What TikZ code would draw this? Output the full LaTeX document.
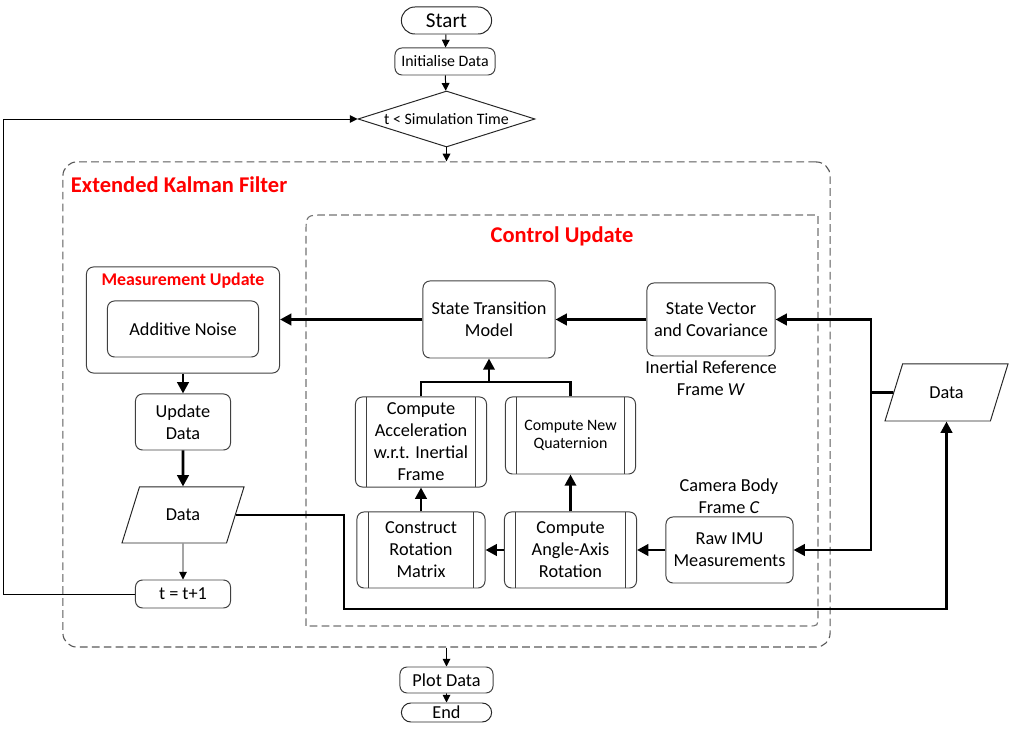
\documentclass[tikz,border=0pt]{standalone}
\usepackage{fontspec}
\setmainfont{Carlito}
\usepackage{tikz}
\usetikzlibrary{calc,positioning,shapes,arrows.meta}

\tikzset{
	txt/.style={font=\fontsize{13}{15.6}\selectfont},
	box/.style={txt,draw=black!75,line width=0.7pt,rounded corners=5pt,align=center,inner sep=1pt},
	term/.style={txt,draw=black!85,line width=0.7pt,rounded rectangle,inner sep=1pt},
	predef/.style={box,path picture={
		\draw[black!75,line width=0.7pt] ([xshift=0.28cm]path picture bounding box.north west) -- ([xshift=0.28cm]path picture bounding box.south west);
		\draw[black!75,line width=0.7pt] ([xshift=-0.28cm]path picture bounding box.north east) -- ([xshift=-0.28cm]path picture bounding box.south east);}},
	iobox/.style={txt,draw=black!85,line width=0.7pt,trapezium,trapezium left angle=63,trapezium right angle=117,
		trapezium stretches=true,inner sep=1pt},
	dashbox/.style={draw=black!65,line width=0.8pt,dash pattern=on 5.5pt off 3pt},
	ttl/.style={text=red,font=\bfseries\fontsize{16}{19}\selectfont},
	thn/.style={line width=0.7pt,-{Triangle[length=5.5pt,width=5.5pt]}},
	thk/.style={line width=2pt,-{Triangle[length=8pt,width=8pt]}}
}

\begin{document}
\begin{tikzpicture}[x=0.025cm,y=-0.025cm]
	\useasboundingbox (0,0) rectangle (1009,734);

	% top of the chart
	\node (start) [term,minimum width=2.325cm,minimum height=0.675cm,font=\fontsize{15}{18}\selectfont] at (446.5,20.5) {Start};
	\node (init) [box,minimum width=2.5cm,minimum height=0.675cm,font=\fontsize{11.3}{13.5}\selectfont] at (445,61.5) {Initialise Data};
	\node (dec) [txt,draw=black!85,line width=0.7pt,diamond,aspect=3.16,inner sep=0pt,minimum width=4.425cm,minimum height=1.4cm,
		font=\fontsize{11.3}{13.5}\selectfont] at (446.5,119) {t < Simulation Time};

	% the two dashed frames
	\node (ekf) [dashbox,rounded corners=0.35cm,minimum width=19.175cm,minimum height=12.125cm] at (446.5,404.5) {};
	\draw[dashbox,draw=black!55] (306,626) -- (306,234) .. controls (306,215) .. (325,215) -- (818,215)
		-- (818,616) .. controls (818,626) .. (808,626) -- cycle;
	\node (ekflbl) [ttl,anchor=west] at (66,185) {Extended Kalman Filter};
	\node (culbl) [ttl] at (562,236) {Control Update};

	% measurement update side
	\node (meas) [box,minimum width=4.825cm,minimum height=2.65cm] at (183,320) {};
	\node (mulbl) [ttl,font=\bfseries\fontsize{12.7}{15}\selectfont] at (183,281) {Measurement Update};
	\node (noise) [box,minimum width=3.775cm,minimum height=1.4cm] at (183,329) {Additive Noise};
	\node (upd) [box,minimum width=2.375cm,minimum height=1.4cm] at (183,422) {Update\\Data};
	\node (datal) [iobox,minimum width=3.05cm,minimum height=1.4cm] at (183,515) {Data};
	\node (tinc) [box,minimum width=2.375cm,minimum height=0.7cm] at (183,594) {t = t+1};

	% control update side
	\node (stm) [box,minimum width=3.3cm,minimum height=1.925cm] at (489,319.5) {State Transition\\Model};
	\node (svc) [box,minimum width=3.2cm,minimum height=1.825cm] at (711,319.5) {State Vector\\and Covariance};
	\node (wlbl) [txt,align=center] at (711,378) {Inertial Reference\\Frame \textit{W}};
	\node (acc) [predef,minimum width=3.275cm,minimum height=2.25cm] at (421,442) {Compute\\Acceleration\\w.r.t. Inertial\\Frame};
	\node (quat) [predef,minimum width=3.25cm,minimum height=1.925cm,font=\fontsize{11.3}{13}\selectfont] at (570.5,435.5) {Compute New\\Quaternion};
	\node (crm) [predef,minimum width=3.2cm,minimum height=1.9cm] at (421,550) {Construct\\Rotation\\Matrix};
	\node (aar) [predef,minimum width=3.3cm,minimum height=1.9cm] at (570.5,550) {Compute\\Angle-Axis\\Rotation};
	\node (imu) [box,minimum width=3.175cm,minimum height=1.65cm] at (729.5,550) {Raw IMU\\Measurements};
	\node (clbl) [txt,align=center] at (729,496) {Camera Body\\Frame \textit{C}};

	% outside data and the end
	\node (datar) [iobox,minimum width=3.075cm,minimum height=1.425cm] at (946.5,392.5) {Data};
	\node (plot) [box,minimum width=2.325cm,minimum height=0.65cm] at (446.5,680) {Plot Data};
	\node (end) [term,minimum width=2.325cm,minimum height=0.475cm] at (446.5,712.5) {End};

	\coordinate (loop) at (3,594);
	\coordinate (bus) at (871,392.5);
	\coordinate (low) at (344,609);
	\coordinate (jn) at (489,382);

	% thin connectors
	\draw[thn] (start) -- (init);
	\draw[thn] (init) -- (dec);
	\draw[thn] (dec) -- (dec |- ekf.north);
	\draw[thn] (plot |- ekf.south) -- (plot);
	\draw[thn] (plot) -- (end);
	\draw[thn] (tinc.west) -- (loop) |- (dec.west);
	\draw[thn] (datal) -- (tinc);

	% thick connectors
	\draw[thk] (stm.west) -- (stm.west -| meas.east);
	\draw[thk] (svc) -- (stm);
	\draw[thk] (meas) -- (upd);
	\draw[thk] (upd) -- (datal);
	\draw[line width=2pt] (datar.west) -- (bus);
	\draw[thk] (bus) |- (svc.east);
	\draw[thk] (bus) |- (imu.east);
	\draw[thk] (datal.east) -| (low) -| (datar.south);
	\draw[thk] (imu) -- (aar);
	\draw[thk] (aar) -- (crm);
	\draw[thk] (crm) -- (acc);
	\draw[thk] (aar) -- (quat);
	\draw[line width=2pt] (acc.north) |- (jn) -| (quat.north);
	\draw[thk] (jn) -- (stm);
\end{tikzpicture}
\end{document}
